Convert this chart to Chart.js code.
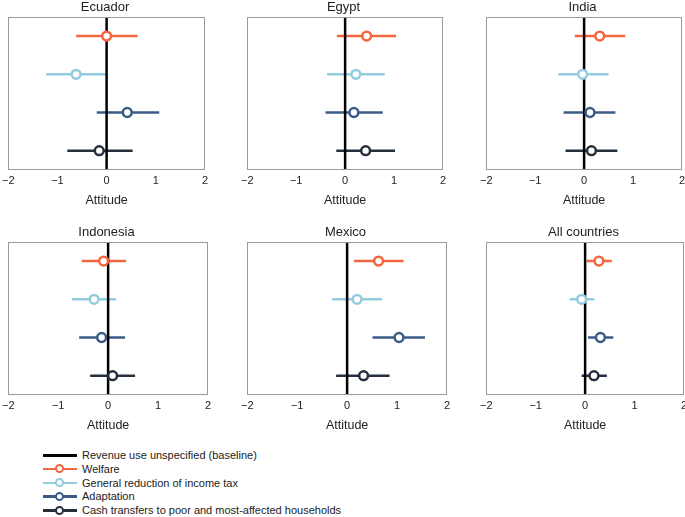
<!DOCTYPE html>
<html>
<head>
<meta charset="utf-8">
<script src="https://cdn.jsdelivr.net/npm/chart.js@4"></script>
<style>
  body { margin: 0; background: #fff; font-family: "Liberation Sans", Arial, sans-serif; }
  #wrap { position: relative; width: 685px; height: 517px; overflow: hidden; }
  canvas { position: absolute; }
  .leg { position: absolute; left: 43px; height: 14px; font-size: 11px; color: #222; }
  .leg .ln { position: absolute; left: 0; top: 6px; width: 34px; height: 2.5px; }
  .leg .dot { position: absolute; left: 12px; top: 2.5px; width: 5px; height: 5px; border-radius: 50%; background: #fff; border: 2.5px solid; }
  .leg .tx { position: absolute; left: 39px; top: 0; white-space: nowrap; line-height: 14px; }
</style>
</head>
<body>
<div id="wrap">
  <canvas id="c0" width="216" height="212" style="left:-3px;top:0px"></canvas>
  <canvas id="c1" width="215" height="212" style="left:236px;top:0px"></canvas>
  <canvas id="c2" width="215" height="212" style="left:475px;top:0px"></canvas>
  <canvas id="c3" width="219" height="212" style="left:-3px;top:225px"></canvas>
  <canvas id="c4" width="219" height="212" style="left:236px;top:225px"></canvas>
  <canvas id="c5" width="217" height="212" style="left:475px;top:225px"></canvas>
  <div id="legend"></div>
</div>
<script>
// series shown in every panel, top to bottom
const seriesNames = ['Welfare', 'General reduction of income tax', 'Adaptation', 'Cash transfers to poor and most-affected households'];
const seriesColors = ['#f4663f', '#93cbe1', '#3b5b87', '#262f3e'];
const baselineName = 'Revenue use unspecified (baseline)';
const countries = ['Ecuador', 'Egypt', 'India', 'Indonesia', 'Mexico', 'All countries'];
const xTicks = [-2, -1, 0, 1, 2];

// point estimates and confidence bounds, one value per series
const ecuadorEst = [0.0, -0.62, 0.42, -0.15];
const ecuadorLow = [-0.62, -1.23, -0.2, -0.8];
const ecuadorHigh = [0.63, 0.0, 1.07, 0.53];

const egyptEst = [0.44, 0.22, 0.18, 0.42];
const egyptLow = [-0.17, -0.37, -0.4, -0.18];
const egyptHigh = [1.04, 0.81, 0.77, 1.02];

const indiaEst = [0.32, -0.03, 0.12, 0.15];
const indiaLow = [-0.19, -0.53, -0.42, -0.38];
const indiaHigh = [0.84, 0.5, 0.64, 0.68];

const indonesiaEst = [-0.09, -0.28, -0.13, 0.09];
const indonesiaLow = [-0.53, -0.72, -0.58, -0.36];
const indonesiaHigh = [0.36, 0.16, 0.34, 0.54];

const mexicoEst = [0.63, 0.2, 1.04, 0.33];
const mexicoLow = [0.14, -0.3, 0.51, -0.22];
const mexicoHigh = [1.13, 0.7, 1.56, 0.85];

const allEst = [0.28, -0.07, 0.31, 0.18];
const allLow = [0.03, -0.31, 0.06, -0.07];
const allHigh = [0.54, 0.19, 0.57, 0.44];

const panelEst = [ecuadorEst, egyptEst, indiaEst, indonesiaEst, mexicoEst, allEst];
const panelLow = [ecuadorLow, egyptLow, indiaLow, indonesiaLow, mexicoLow, allLow];
const panelHigh = [ecuadorHigh, egyptHigh, indiaHigh, indonesiaHigh, mexicoHigh, allHigh];

// frame round the plot area
const framePlugin = {
  id: 'frame',
  afterDraw(chart) {
    const a = chart.chartArea, ctx = chart.ctx;
    ctx.save();
    ctx.strokeStyle = '#9a9a9a';
    ctx.lineWidth = 1;
    ctx.strokeRect(Math.round(a.left) + 0.5, Math.round(a.top) + 0.5, Math.round(a.right - a.left) - 1, Math.round(a.bottom - a.top) - 1);
    ctx.restore();
  }
};

function makePanel(idx) {
  const est = panelEst[idx], lo = panelLow[idx], hi = panelHigh[idx];
  const datasets = [];
  // circles on top
  seriesNames.forEach((name, i) => {
    datasets.push({
      label: name,
      data: [{ x: est[i], y: i + 1 }],
      pointRadius: 4.4,
      pointBorderWidth: 2.5,
      pointBackgroundColor: '#fff',
      pointBorderColor: seriesColors[i],
      showLine: false,
      order: 0
    });
  });
  // baseline at zero
  datasets.push({
    label: baselineName,
    data: [{ x: 0, y: 0.5 }, { x: 0, y: 4.5 }],
    showLine: true,
    borderColor: '#000',
    borderWidth: 2.5,
    pointRadius: 0,
    order: 1
  });
  // confidence intervals
  seriesNames.forEach((name, i) => {
    datasets.push({
      label: name + ' CI',
      data: [{ x: lo[i], y: i + 1 }, { x: hi[i], y: i + 1 }],
      showLine: true,
      borderColor: seriesColors[i],
      borderWidth: 2.5,
      pointRadius: 0,
      order: 2
    });
  });

  new Chart(document.getElementById('c' + idx), {
    type: 'scatter',
    data: { datasets: datasets },
    plugins: [framePlugin],
    options: {
      responsive: false,
      animation: false,
      layout: { padding: { left: 8, right: 8, top: 0, bottom: 4 } },
      plugins: {
        legend: { display: false },
        tooltip: { enabled: false },
        title: {
          display: true,
          text: countries[idx],
          color: '#222',
          font: { family: 'Liberation Sans', size: 13, weight: 'normal' },
          padding: { top: 0, bottom: 1.4 }
        }
      },
      scales: {
        x: {
          type: 'linear',
          min: -2,
          max: 2,
          afterBuildTicks: (s) => { s.ticks = xTicks.map(v => ({ value: v })); },
          grid: { display: false, drawTicks: false },
          border: { display: false },
          ticks: {
            color: '#222',
            padding: 5,
            font: { family: 'Liberation Sans', size: 11 },
            callback: (v) => String(v).replace('-', '\u2212')
          },
          title: {
            display: true,
            text: 'Attitude',
            color: '#222',
            font: { family: 'Liberation Sans', size: 12.5 },
            padding: { top: 0, bottom: 0 }
          }
        },
        y: {
          type: 'linear',
          min: 0.5,
          max: 4.5,
          reverse: true,
          display: false
        }
      }
    }
  });
}

countries.forEach((c, i) => makePanel(i));

// legend below the panels
const legendRows = [{ name: baselineName, color: '#000', dot: false }]
  .concat(seriesNames.map((n, i) => ({ name: n, color: seriesColors[i], dot: true })));
const legendEl = document.getElementById('legend');
legendRows.forEach((r, i) => {
  const row = document.createElement('div');
  row.className = 'leg';
  row.style.top = (448 + i * 13.8) + 'px';
  row.innerHTML = '<div class="ln" style="background:' + r.color + '"></div>' +
    (r.dot ? '<div class="dot" style="border-color:' + r.color + '"></div>' : '') +
    '<div class="tx">' + r.name + '</div>';
  legendEl.appendChild(row);
});
</script>
</body>
</html>
